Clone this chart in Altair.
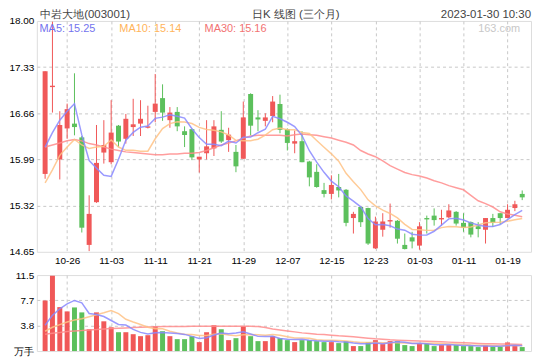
import altair as alt
import pandas as pd

# ---- data ----
opens = [15.78, 17.04, 15.99, 16.44, 16.51, 16.31, 14.75, 15.37, 16.09, 15.95,
         16.48, 16.29, 16.46, 16.51, 16.45, 16.68, 16.88, 16.56, 16.68, 16.40,
         16.43, 15.99, 16.08, 16.15, 16.42, 16.27, 16.10, 16.00, 16.94, 16.60,
         16.55, 16.62, 16.795, 16.43, 16.22, 16.255, 15.96, 15.81, 15.545, 15.49,
         15.59, 15.55, 15.14, 15.30, 15.285, 14.70, 14.97, 15.09, 15.10, 14.75,
         14.86, 14.74, 15.14, 15.175, 15.12, 15.15, 15.23, 15.07, 15.08, 15.02,
         14.97, 15.14, 15.21, 15.14, 15.285, 15.49]
highs = [17.27, 17.99, 16.69, 16.80, 17.24, 16.33, 15.47, 16.49, 16.56, 16.85,
         16.49, 16.65, 16.87, 16.85, 16.77, 17.23, 17.08, 16.75, 16.75, 16.47,
         16.44, 16.03, 16.56, 16.56, 16.69, 16.45, 16.20, 16.83, 16.95, 16.705,
         16.66, 16.91, 16.93, 16.44, 16.41, 16.40, 15.97, 15.92, 15.65, 15.76,
         15.78, 15.56, 15.23, 15.31, 15.29, 15.16, 15.21, 15.35, 15.11, 14.915,
         14.94, 15.08, 15.175, 15.28, 15.26, 15.34, 15.24, 15.21, 15.09, 15.08,
         15.14, 15.20, 15.21, 15.34, 15.39, 15.54]
lows = [15.71, 16.67, 15.70, 16.29, 16.34, 14.93, 14.66, 15.36, 15.93, 15.92,
        16.17, 16.22, 16.33, 16.33, 16.44, 16.53, 16.55, 16.45, 16.40, 16.17,
        15.98, 15.80, 15.99, 16.04, 16.23, 16.10, 15.805, 16.00, 16.34, 16.40,
        16.47, 16.53, 16.37, 16.12, 16.08, 15.95, 15.60, 15.58, 15.44, 15.41,
        15.44, 15.02, 14.915, 15.01, 14.75, 14.69, 14.87, 15.00, 14.77, 14.685,
        14.70, 14.68, 14.915, 15.03, 15.03, 15.14, 15.03, 14.94, 14.86, 14.86,
        14.77, 15.01, 15.05, 15.14, 15.24, 15.40]
closes = [17.27, 17.06, 16.49, 16.72, 16.46, 15.00, 15.20, 15.94, 16.20, 16.38,
          16.25, 16.58, 16.50, 16.58, 16.47, 16.80, 16.67, 16.67, 16.47, 16.345,
          16.02, 16.03, 16.18, 16.47, 16.25, 16.35, 15.89, 16.60, 16.48, 16.57,
          16.60, 16.83, 16.42, 16.23, 16.255, 15.95, 15.73, 15.59, 15.49, 15.62,
          15.54, 15.07, 15.20, 15.08, 14.77, 15.09, 15.09, 15.11, 14.84, 14.69,
          14.80, 15.02, 15.12, 15.11, 15.14, 15.25, 15.06, 15.00, 14.90, 14.98,
          15.14, 15.07, 15.14, 15.26, 15.34, 15.44]
volumes = [7.65, 11.4, 6.65, 6.0, 6.6, 5.85, 3.3, 5.85, 4.5, 3.6,
           2.85, 2.85, 2.55, 2.25, 2.4, 3.75, 3.0, 2.25, 1.8, 1.8,
           2.25, 1.35, 2.85, 3.9, 3.3, 1.65, 1.95, 3.75, 2.25, 1.5,
           1.5, 2.25, 1.95, 1.65, 1.35, 1.65, 1.65, 1.5, 1.35, 1.35,
           1.2, 1.5, 0.75, 0.75, 1.35, 1.65, 1.05, 1.5, 1.5, 0.9,
           0.75, 1.2, 1.2, 0.75, 0.9, 0.9, 0.9, 0.75, 0.75, 0.6,
           0.9, 0.65, 0.65, 1.3, 0.9, 0.6]
ma30 = [16.17, 16.20, 16.23, 16.26, 16.28, 16.26, 16.22, 16.20, 16.17, 16.14,
        16.12, 16.10, 16.09, 16.08, 16.07, 16.06, 16.06, 16.07, 16.07, 16.08,
        16.08, 16.09, 16.12, 16.16, 16.20, 16.23, 16.26, 16.30, 16.33, 16.34,
        16.34, 16.34, 16.34, 16.33, 16.35, 16.36, 16.35, 16.34, 16.32, 16.30,
        16.27, 16.24, 16.20, 16.12, 16.07, 16.03, 15.97, 15.90, 15.85, 15.80,
        15.77, 15.75, 15.72, 15.68, 15.65, 15.61, 15.58, 15.55, 15.47, 15.39,
        15.35, 15.30, 15.23, 15.20, 15.18, 15.16]
ma5_head = [16.17, 16.38, 16.56, 16.69]
ma10_head = [15.65, 15.84, 16.05, 16.17, 16.28, 16.20, 16.15, 16.17, 16.18]
vma5_head = [3.9, 5.4, 6.4, 7.15]
vma10_head = [3.0, 3.6, 4.0, 4.4, 4.7, 4.9, 5.2, 5.5, 5.8]
vma30 = [2.55, 2.7, 2.8, 2.95, 3.05, 3.1, 3.2, 3.25, 3.35, 3.4,
         3.45, 3.5, 3.55, 3.6, 3.65, 3.65, 3.7, 3.7, 3.7, 3.72,
         3.75, 3.75, 3.75, 3.75, 3.75, 3.75, 3.75, 3.75, 3.75, 3.7,
         3.55, 3.35, 3.2, 3.05, 2.9, 2.75, 2.65, 2.55, 2.5, 2.4,
         2.3, 2.25, 2.15, 2.05, 1.95, 1.85, 1.78, 1.7, 1.65, 1.6,
         1.57, 1.53, 1.5, 1.45, 1.4, 1.35, 1.3, 1.25, 1.2, 1.15,
         1.12, 1.1, 1.07, 1.05, 1.02, 1.0]

tick_idx = [3, 9, 15, 21, 27, 33, 39, 45, 51, 57, 63]
tick_labels = ['10-26', '11-03', '11-11', '11-21', '11-29', '12-07',
               '12-15', '12-23', '01-03', '01-11', '01-19']
price_ticks = [14.65, 15.32, 15.99, 16.66, 17.33, 18.00]
vol_ticks = [0, 11.5 / 3, 11.5 * 2 / 3, 11.5]
ma_labels = ['MA5: 15.25', 'MA10: 15.14', 'MA30: 15.16']
title_left = '中岩大地(003001)'
title_mid = '日K 线图 (三个月)'
title_right = '2023-01-30 10:30'
watermark = '163.com'

# ---- styling ----
RED = '#f05858'
GREEN = '#5cc05c'
C5, C10, C30 = '#8888ff', '#ffc285', '#ff8c8c'
T5, T10, T30 = '#7373ee', '#ffb45a', '#f27272'
FONT = 'Liberation Sans'
W, H, HV = 497, 232.2, 76.4
HEAD_Y = -11.5     # header row, above the price panel
LEG_Y = 8.3        # MA legend row, inside the price panel

n = len(closes)
df = pd.DataFrame({
    'i': list(range(n)), 'open': opens, 'high': highs, 'low': lows,
    'close': closes, 'vol': volumes, 'ma30': ma30, 'vma30': vma30,
})
df['dir'] = ['up' if c >= o else 'down' for o, c in zip(opens, closes)]
ma5 = df['close'].rolling(5).mean().tolist()
ma10 = df['close'].rolling(10).mean().tolist()
vma5 = df['vol'].rolling(5).mean().tolist()
vma10 = df['vol'].rolling(10).mean().tolist()
df['ma5'] = ma5_head + ma5[len(ma5_head):]
df['ma10'] = ma10_head + ma10[len(ma10_head):]
df['vma5'] = vma5_head + vma5[len(vma5_head):]
df['vma10'] = vma10_head + vma10[len(vma10_head):]

xscale = alt.Scale(domain=[-0.45, 65.52], nice=False, zero=False)
pscale = alt.Scale(domain=[14.65, 18.0], nice=False, zero=False)
vscale = alt.Scale(domain=[0, 11.5], nice=False)
cscale = alt.Scale(domain=['up', 'down'], range=[RED, GREEN])

label_expr = ' : '.join(
    f"datum.value == {v} ? '{t}'" for v, t in zip(tick_idx, tick_labels)) + " : ''"

x_axis_price = alt.Axis(values=tick_idx, labelExpr=label_expr, grid=True,
                        gridDash=[3, 3], gridColor='#c8c8c8', ticks=False,
                        domain=False, labelPadding=4, title=None, labelFlush=False)
x_axis_vol = alt.Axis(values=tick_idx, labels=False, grid=True, gridDash=[3, 3],
                      gridColor='#c8c8c8', ticks=False, domain=False, title=None)
y_axis_price = alt.Axis(values=price_ticks, format='.2f', grid=True, gridDash=[3, 3],
                        gridColor='#c8c8c8',
                        gridOpacity={"condition": {"test": "datum.value < 14.66 || datum.value > 17.99",
                                                   "value": 0}, "value": 1},
                        ticks=False, domain=False, labelPadding=3, title=None)
y_axis_vol = alt.Axis(values=vol_ticks,
                      labelExpr="datum.value == 0 ? '万手' : format(datum.value, '.1f')",
                      grid=True, gridDash=[3, 3], gridColor='#c8c8c8',
                      gridOpacity={"condition": {"test": "datum.value < 0.01 || datum.value > 11.49",
                                                 "value": 0}, "value": 1},
                      ticks=False, domain=False, labelPadding=3, title=None)

base = alt.Chart(df)
color = alt.Color('dir:N', scale=cscale, legend=None)

PX = alt.X('i:Q', scale=xscale, axis=x_axis_price)
VX = alt.X('i:Q', scale=xscale, axis=x_axis_vol)


def py(field):
    return alt.Y(f'{field}:Q', scale=pscale, axis=y_axis_price)


def vy(field):
    return alt.Y(f'{field}:Q', scale=vscale, axis=y_axis_vol)


wicks = base.mark_rule(strokeWidth=1).encode(x=PX, y=py('low'), y2='high:Q', color=color)
bodies = base.mark_bar(size=5).encode(x=PX, y=py('open'), y2='close:Q', color=color)


def ma_line(field, col, xenc, yenc):
    return base.mark_line(strokeWidth=1.5, opacity=0.85, color=col, clip=True).encode(
        x=xenc, y=yenc(field))


def label(txt, x, y, col, align='left', baseline='middle', size=11):
    return alt.Chart(pd.DataFrame({'t': [txt]})).mark_text(
        align=align, baseline=baseline, font=FONT, fontSize=size, color=col).encode(
        text='t:N', x=alt.value(x), y=alt.value(y))


price = alt.layer(
    wicks, bodies,
    ma_line('ma30', C30, PX, py), ma_line('ma10', C10, PX, py), ma_line('ma5', C5, PX, py),
    label(ma_labels[0], 2.7, LEG_Y, T5),
    label(ma_labels[1], 83, LEG_Y, T10),
    label(ma_labels[2], 168.7, LEG_Y, T30),
    label(watermark, 486, LEG_Y, '#c8c8c8', align='right'),
    label(title_left, 3.4, HEAD_Y, '#444444', baseline='top', size=11.5),
    label(title_mid, 260.5, HEAD_Y, '#444444', align='center', baseline='top', size=11.5),
    label(title_right, W, HEAD_Y, '#444444', align='right', baseline='top', size=11.5),
).properties(width=W, height=H)

vbars = base.mark_bar(size=5).encode(x=VX, y=vy('vol'), color=color)
volume = alt.layer(
    vbars,
    ma_line('vma30', C30, VX, vy), ma_line('vma10', C10, VX, vy), ma_line('vma5', C5, VX, vy),
).properties(width=W, height=HV)

chart = alt.vconcat(price, volume, spacing=22.6, bounds='flush').properties(
    padding=0
).configure_view(
    stroke='#aaaaaa', strokeWidth=1
).configure_axis(
    labelFont=FONT, labelFontSize=11, labelColor='#555555'
).configure(background='white')

chart.save("out.html", embed_options={"renderer": "svg", "actions": False})
